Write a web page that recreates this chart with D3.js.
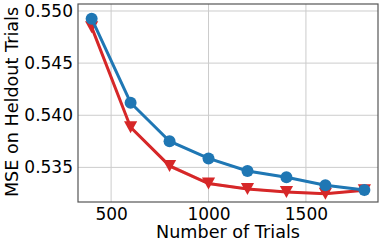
<!DOCTYPE html>
<html><head><meta charset="utf-8">
<script src="https://cdn.jsdelivr.net/npm/d3@7"></script>
<style>body{margin:0;background:#fff}svg{display:block;font-family:"DejaVu Sans",sans-serif}</style>
</head><body><svg id="c" width="382" height="246"></svg>
<script>
const trials = [400, 600, 800, 1000, 1200, 1400, 1600, 1800];
const blueMSE = [0.54926, 0.5412, 0.53751, 0.53586, 0.53465, 0.53405, 0.53328, 0.53283];
const redMSE  = [0.54845, 0.53885, 0.53514, 0.53345, 0.53292, 0.53265, 0.53248, 0.5328];
const blueErr = [0.0002, 0.00015, 0.00012, 0.0001, 0.0001, 0.0001, 0.0001, 0.0001];
const redErr  = [0.0003, 0.0002, 0.00018, 0.00015, 0.00012, 0.0001, 0.0001, 0.0001];
const xTicks = [500, 1000, 1500];
const yTicks = [0.535, 0.540, 0.545, 0.550];

const svg = d3.select("#c");
const L = 78, R = 378, T = 4, B = 202;
const x = d3.scaleLinear().domain([330, 1870]).range([L, R]);
const y = d3.scaleLinear().domain([0.53168, 0.55067]).range([B, T]);

// grid
svg.append("g").selectAll("line").data(xTicks).join("line")
  .attr("x1", d => x(d)).attr("x2", d => x(d)).attr("y1", T).attr("y2", B)
  .attr("stroke", "#cccccc").attr("stroke-width", 1);
svg.append("g").selectAll("line").data(yTicks).join("line")
  .attr("x1", L).attr("x2", R).attr("y1", d => y(d)).attr("y2", d => y(d))
  .attr("stroke", "#cccccc").attr("stroke-width", 1);

// axes
const xa = svg.append("g").attr("transform", `translate(0,${B})`)
  .call(d3.axisBottom(x).tickValues(xTicks).tickSize(0).tickPadding(6).tickFormat(d3.format("d")));
const ya = svg.append("g").attr("transform", `translate(${L},0)`)
  .call(d3.axisLeft(y).tickValues(yTicks).tickSize(0).tickPadding(5).tickFormat(d3.format(".3f")));
[xa, ya].forEach(a => {
  a.select(".domain").remove();
  a.selectAll("text").attr("font-size", 17).attr("fill", "#000").attr("font-family", "DejaVu Sans");
});
svg.append("rect").attr("x", L).attr("y", T).attr("width", R - L).attr("height", B - T)
  .attr("fill", "none").attr("stroke", "#555").attr("stroke-width", 1.2);

const series = [
  {v: blueMSE, e: blueErr, c: "#1f77b4", m: "circle"},
  {v: redMSE, e: redErr, c: "#d62728", m: "tri"}
];
const order = [series[1], series[0]];
order.forEach(s => {
  const area = d3.area().x((d, i) => x(trials[i])).y0((d, i) => y(d - s.e[i])).y1((d, i) => y(d + s.e[i]));
  svg.append("path").datum(s.v).attr("d", area).attr("fill", s.c).attr("opacity", 0.3);
  const line = d3.line().x((d, i) => x(trials[i])).y(d => y(d));
  svg.append("path").datum(s.v).attr("d", line).attr("fill", "none").attr("stroke", s.c).attr("stroke-width", 3);
  const g = svg.append("g");
  if (s.m === "circle") {
    g.selectAll("circle").data(s.v).join("circle")
      .attr("cx", (d, i) => x(trials[i])).attr("cy", d => y(d)).attr("r", 6).attr("fill", s.c);
  } else {
    g.selectAll("path").data(s.v).join("path")
      .attr("d", "M-6.6,-6L6.6,-6L0,6Z").attr("fill", s.c)
      .attr("transform", (d, i) => `translate(${x(trials[i])},${y(d)})`);
  }
});

// labels
svg.append("text").attr("x", (L + R) / 2).attr("y", 238).attr("text-anchor", "middle")
  .attr("font-size", 17.6).text("Number of Trials");
svg.append("text").attr("transform", `translate(17.5,102) rotate(-90)`)
  .attr("text-anchor", "middle").attr("font-size", 17.6).text("MSE on Heldout Trials");
</script></body></html>
